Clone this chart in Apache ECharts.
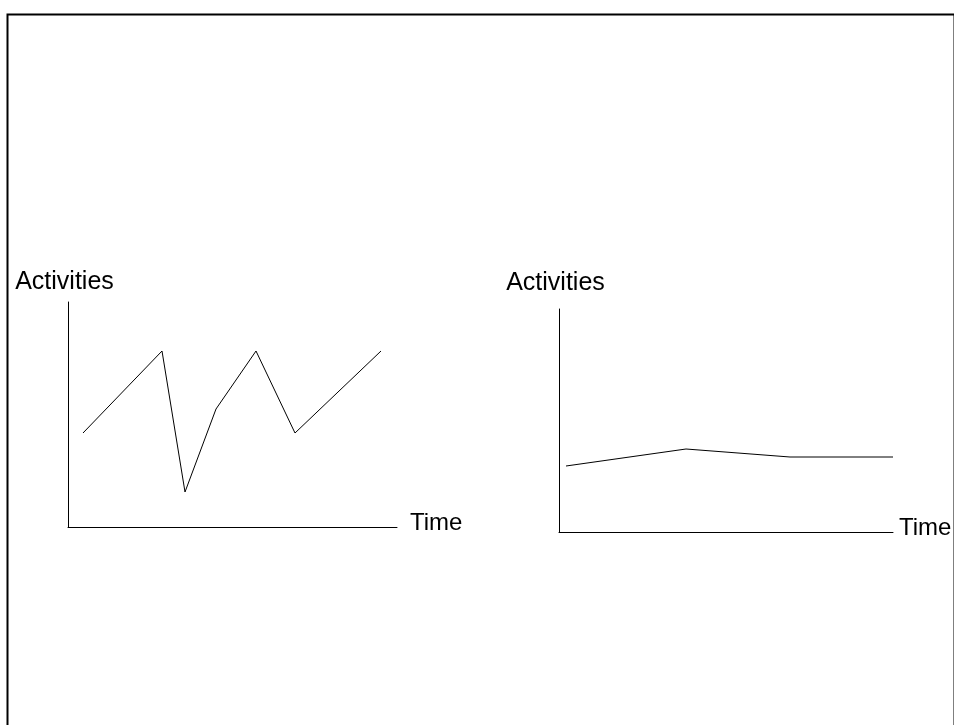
<!DOCTYPE html>
<html>
<head>
<meta charset="utf-8">
<script src="https://cdn.jsdelivr.net/npm/echarts@6/dist/echarts.min.js"></script>
<style>
html,body{margin:0;padding:0;background:#fff;}
#chart{width:954px;height:725px;}
</style>
</head>
<body>
<div id="chart"></div>
<script>
// Left chart: activities over time (x in time units, y in activity units)
var leftTime = [15, 94, 117, 148, 188, 227, 313];
var leftActivities = [94, 176, 35, 118, 176, 94, 176];
// Right chart
var rightTime = [7, 127, 231, 334];
var rightActivities = [66, 83, 75, 75];
var yName = 'Activities';
var xName = 'Time';

function pairs(xs, ys) { return xs.map(function (x, i) { return [x, ys[i]]; }); }

var font = 'Liberation Sans, Arial, sans-serif';
function xAxisCfg(gi, max, gap) {
  return {
    gridIndex: gi, type: 'value', min: 0, max: max,
    name: xName, nameLocation: 'end', nameGap: gap,
    nameTextStyle: { fontFamily: font, fontSize: 24, color: '#000', verticalAlign: 'bottom', lineHeight: 8 },
    axisLine: { show: true, lineStyle: { color: '#000', width: 1 } },
    axisTick: { show: false }, axisLabel: { show: false }, splitLine: { show: false }
  };
}
function yAxisCfg(gi, max, gap) {
  return {
    gridIndex: gi, type: 'value', min: 0, max: max,
    name: yName, nameLocation: 'end', nameGap: gap,
    nameTextStyle: { fontFamily: font, fontSize: 25, color: '#000', padding: [0, 7, 0, 0] },
    axisLine: { show: true, lineStyle: { color: '#000', width: 1 } },
    axisTick: { show: false }, axisLabel: { show: false }, splitLine: { show: false }
  };
}

var chart = echarts.init(document.getElementById('chart'), null, { renderer: 'canvas' });
chart.setOption({
  animation: false,
  backgroundColor: '#fff',
  graphic: [{
    type: 'rect', left: 5, top: 12,
    shape: { x: 0, y: 0, width: 947, height: 800 },
    style: { fill: 'none', stroke: '#000', lineWidth: 2 }, silent: true
  }],
  grid: [
    { left: 68, top: 302, width: 329, height: 225 },
    { left: 559, top: 309, width: 334, height: 223 }
  ],
  xAxis: [xAxisCfg(0, 329, 13), xAxisCfg(1, 334, 6)],
  yAxis: [yAxisCfg(0, 225, 7), yAxisCfg(1, 223, 13)],
  series: [
    { type: 'line', xAxisIndex: 0, yAxisIndex: 0, data: pairs(leftTime, leftActivities),
      showSymbol: false, symbol: 'none', lineStyle: { color: '#000', width: 1 } },
    { type: 'line', xAxisIndex: 1, yAxisIndex: 1, data: pairs(rightTime, rightActivities),
      showSymbol: false, symbol: 'none', lineStyle: { color: '#000', width: 1 } }
  ]
});
</script>
</body>
</html>
